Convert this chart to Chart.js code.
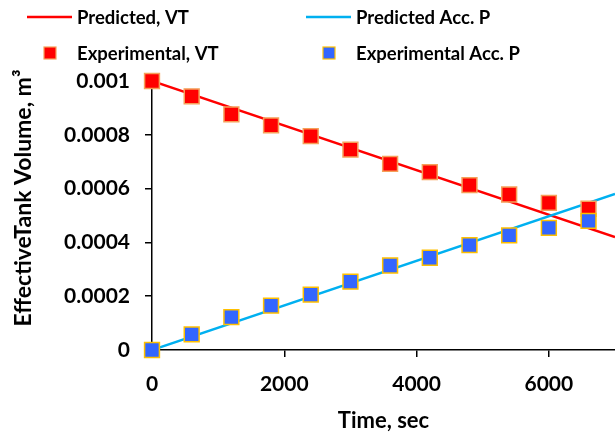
<!DOCTYPE html>
<html>
<head>
<meta charset="utf-8">
<script src="https://cdn.jsdelivr.net/npm/chart.js@4.4.1/dist/chart.umd.min.js"></script>
<style>
  html, body { margin: 0; padding: 0; background: #fff; }
  #wrap { width: 615px; height: 434px; }
</style>
</head>
<body>
<div id="wrap"><canvas id="chart" width="615" height="434"></canvas></div>
<script>
// DATOS
const expTime = [0, 600, 1200, 1800, 2400, 3000, 3600, 4200, 4800, 5400, 6000, 6600];
const expVT = [0.001, 0.000943, 0.000876, 0.000835, 0.000795, 0.000745, 0.000692, 0.000661, 0.000613, 0.000578, 0.000547, 0.000525];
const expAccP = [0, 0.000058, 0.000122, 0.000165, 0.000206, 0.000254, 0.000314, 0.000343, 0.00039, 0.000426, 0.000454, 0.00048];
const predTime = [0, 7000];
const predVT = [0.001, 0.00042];
const predAccP = [0, 0.00058];
const xTicks = [0, 2000, 4000, 6000];
const yTicks = [0, 0.0002, 0.0004, 0.0006, 0.0008, 0.001];
const yTitle = 'EffectiveTank Volume, m³';

const FONT = 'Lato, "Open Sans", sans-serif';
const RED = '#FF0000';
const BLUE_LINE = '#00B0F0';
const BLUE_PT = '#3366FF';

const toXY = (xs, ys) => xs.map((x, i) => ({ x: x, y: ys[i] }));

// LEYENDA 2x2 DIBUJADA A MANO
const legendItems = [
  { text: 'Predicted, VT', kind: 'line', color: RED, x: 27, y: 17 },
  { text: 'Predicted Acc. P', kind: 'line', color: BLUE_LINE, x: 306, y: 17 },
  { text: 'Experimental, VT', kind: 'box', color: RED, border: '#F5A05A', x: 27, y: 53 },
  { text: 'Experimental Acc. P', kind: 'box', color: BLUE_PT, border: '#FFC000', x: 306, y: 53 }
];

const legendPlugin = {
  id: 'legend2x2',
  afterDraw(chart) {
    const ctx = chart.ctx;
    ctx.save();
    ctx.font = 'bold 18.5px ' + FONT;
    ctx.textBaseline = 'middle';
    legendItems.forEach(it => {
      if (it.kind === 'line') {
        ctx.strokeStyle = it.color;
        ctx.lineWidth = 2.5;
        ctx.beginPath();
        ctx.moveTo(it.x, it.y);
        ctx.lineTo(it.x + 45, it.y);
        ctx.stroke();
      } else {
        ctx.fillStyle = it.color;
        ctx.strokeStyle = it.border;
        ctx.lineWidth = 1.2;
        ctx.fillRect(it.x + 17, it.y - 6, 12, 12);
        ctx.strokeRect(it.x + 17, it.y - 6, 12, 12);
      }
      ctx.fillStyle = '#000';
      ctx.fillText(it.text, it.x + 50, it.y + 1);
    });

    // titulo eje Y (girado)
    ctx.translate(24, 198);
    ctx.rotate(-Math.PI / 2);
    ctx.font = 'bold 23px ' + FONT;
    ctx.textAlign = 'center';
    ctx.fillText(yTitle, 0, 0);
    ctx.restore();
  }
};

const tickFont = { family: FONT, size: 21, weight: 'bold' };

new Chart(document.getElementById('chart'), {
  type: 'scatter',
  data: {
    datasets: [
      {
        label: 'Experimental Acc. P', data: toXY(expTime, expAccP), order: 0,
        showLine: false, pointStyle: 'rect', pointRadius: 10.5,
        backgroundColor: BLUE_PT, borderColor: '#FFC000', borderWidth: 1.5, clip: false
      },
      {
        label: 'Experimental, VT', data: toXY(expTime, expVT), order: 1,
        showLine: false, pointStyle: 'rect', pointRadius: 10.5,
        backgroundColor: RED, borderColor: '#F5A05A', borderWidth: 1.5, clip: false
      },
      {
        label: 'Predicted Acc. P', data: toXY(predTime, predAccP), order: 2,
        showLine: true, pointRadius: 0, borderColor: BLUE_LINE, borderWidth: 2.5
      },
      {
        label: 'Predicted, VT', data: toXY(predTime, predVT), order: 3,
        showLine: true, pointRadius: 0, borderColor: RED, borderWidth: 2.5
      }
    ]
  },
  options: {
    responsive: false,
    animation: false,
    layout: { autoPadding: false, padding: { top: 81, right: 0, left: 0, bottom: 0 } },
    plugins: { legend: { display: false }, tooltip: { enabled: false } },
    scales: {
      x: {
        type: 'linear', min: 0, max: 7000,
        afterBuildTicks: s => { s.ticks = xTicks.map(v => ({ value: v })); },
        afterFit: s => { s.height = 84; s.paddingLeft = 0; s.paddingRight = 0; },
        border: { color: '#000', width: 1.5 },
        grid: { drawOnChartArea: false, drawTicks: true, tickLength: 7, color: '#000', lineWidth: 1.5 },
        ticks: { font: tickFont, color: '#000', padding: 15, callback: v => String(v) },
        title: { display: true, text: 'Time, sec', font: { family: FONT, size: 22, weight: 'bold' }, color: '#000', padding: { top: 0, bottom: 0 } }
      },
      y: {
        min: 0, max: 0.001,
        afterBuildTicks: s => { s.ticks = yTicks.map(v => ({ value: v })); },
        afterFit: s => { s.width = 152; s.paddingTop = 0; s.paddingBottom = 0; },
        border: { color: '#000', width: 1.5 },
        grid: { drawOnChartArea: false, drawTicks: true, tickLength: 7, color: '#000', lineWidth: 1.5 },
        ticks: {
          font: tickFont, color: '#000', padding: 15,
          callback: v => v === 0 ? '0' : String(+v.toFixed(4))
        }
      }
    }
  },
  plugins: [legendPlugin]
});
</script>
</body>
</html>
